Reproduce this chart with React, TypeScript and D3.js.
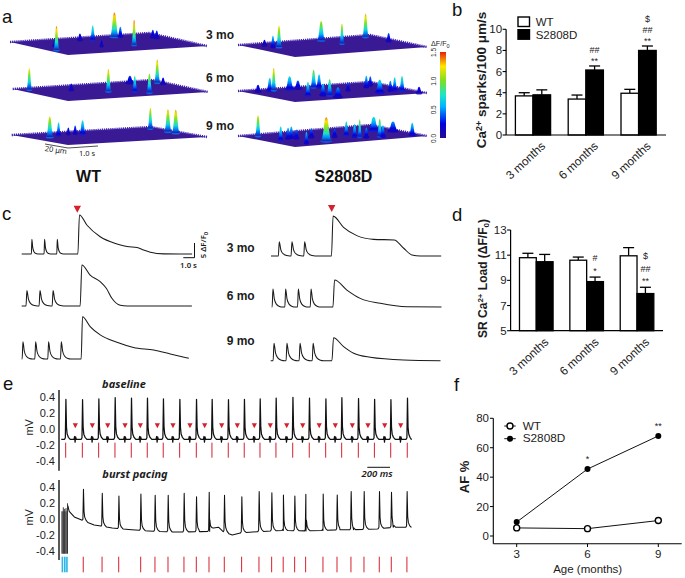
import * as d3 from 'd3';

const width = 685;
const height = 578;
const sans = '"Liberation Sans", Arial, sans-serif';
const humanist = '"Noto Sans", "Open Sans", sans-serif';
const ink = '#1c1c1c';
const red = '#d6202c';

// panel a: [position along the time axis, depth on the plate, dF/F0, spread]
type Spark = [number, number, number, number];
const wt3Sparks: Spark[] = [
  [0.236, 0.7, 1.4, 1.1], [0.42, 0.1, 0.8, 1], [0.53, 0, 1.42, 1.7], [0.56, 0, 0.5, 1], [0.63, 0.55, 1.45, 1],
  [0.465, 0.5, 0.3, 0.7], [0.355, 0.05, 0.3, 1], [0.725, 0.1, 0.35, 1], [0.745, 0.1, 0.35, 1], [0.228, 0.4, 0.3, 1],
];
const wt6Sparks: Spark[] = [
  [0.085, 0, 1.25, 1], [0.3, 0.2, 0.3, 1], [0.49, 0.45, 1.3, 1.1], [0.6, 0, 0.35, 1.6], [0.625, 0.55, 0.85, 1],
  [0.7, 0.7, 1.1, 1.1], [0.74, 0, 1.35, 1.1], [0.77, 0, 0.3, 1],
];
const wt9Sparks: Spark[] = [
  [0.195, 0.3, 1.2, 1.4], [0.24, 0.1, 0.7, 0.9], [0.29, 0.05, 0.3, 0.8], [0.325, 0.05, 0.4, 0.9], [0.363, 0.1, 0.75, 1.2],
  [0.71, 0, 1.2, 1], [0.8, 0, 1.3, 1.4], [0.84, 0, 1.35, 1.5],
];
const s3Sparks: Spark[] = [
  [0.14, 0.1, 0.25, 1], [0.185, 0.3, 0.6, 0.9], [0.217, 0.3, 1.25, 1.1], [0.44, 0, 1.1, 1.5], [0.55, 0.3, 1.15, 0.9],
  [0.675, 0, 1.35, 1.2], [0.797, 0.05, 0.4, 1],
];
const s6Sparks: Spark[] = [
  [0.106, 0, 0.3, 1.2], [0.168, 0, 0.7, 1.2], [0.189, 0, 1.3, 1], [0.273, 0, 0.7, 1.7], [0.317, 0, 0.4, 1.4],
  [0.37, 0.5, 0.75, 1.1], [0.4, 0, 1, 1.2], [0.429, 0, 0.7, 1.1], [0.45, 0.55, 0.6, 1.3], [0.485, 0.6, 0.9, 1.2],
  [0.529, 0.75, 0.5, 1.8], [0.582, 0.35, 0.4, 0.9], [0.679, 0.2, 0.6, 1], [0.7, 0.1, 0.45, 1], [0.75, 0.55, 0.7, 1.8],
  [0.806, 0.3, 0.5, 1], [0.829, 0.2, 0.7, 1], [0.868, 0.1, 0.8, 1.1], [0.958, 0, 0.3, 1.2],
];
const s9Sparks: Spark[] = [
  [0.106, 0, 1.2, 1.1], [0.226, 0.5, 0.75, 1], [0.265, 0.35, 0.55, 1], [0.282, 0.3, 0.6, 1.1], [0.309, 0.35, 0.45, 1],
  [0.362, 0.7, 0.6, 0.9], [0.388, 0.35, 0.45, 1.1], [0.467, 0.7, 1.4, 2.2], [0.511, 0.45, 0.4, 1], [0.573, 0.4, 0.75, 1],
  [0.617, 0.55, 0.7, 1], [0.644, 0.6, 1, 0.8], [0.679, 0.65, 0.5, 1], [0.718, 0.2, 0.75, 2], [0.75, 0.6, 1, 1],
  [0.767, 0.6, 0.6, 1], [0.82, 0, 0.5, 2], [0.922, 0, 0.65, 1.2],
];
const sparkProfile: [number, number][] = [
  [-1, 0], [-0.7, 0.12], [-0.45, 0.5], [-0.25, 0.88], [0, 1], [0.25, 0.88], [0.45, 0.5], [0.7, 0.12], [1, 0],
];
const jetStops = ['#260c8c', '#0000e6', '#00b4ff', '#19e6c8', '#7de01e', '#ffe600', '#e61e0a'];
const jetDomain = [0, 0.25, 0.55, 0.75, 1, 1.25, 1.5];

// panel b and d
const ages = ['3 months', '6 months', '9 months'];
const genotypes = ['WT', 'S2808D'];
const sparksWT = [3.7, 3.4, 3.95];
const sparksS = [3.8, 6.15, 8.0];
const sparksWTErr = [0.3, 0.38, 0.37];
const sparksSErr = [0.47, 0.38, 0.42];
const loadWT = [10.8, 10.6, 10.95];
const loadS = [10.48, 8.9, 7.95];
const loadWTErr = [0.35, 0.25, 0.65];
const loadSErr = [0.58, 0.36, 0.5];

// panel c: twitch times (s), amplitude (dF/F0), caffeine transient [s, dF/F0]
const twitchShape: [number, number][] = [[-0.05, 0], [0.02, 1], [0.14, 0.45], [0.32, 0.16], [0.6, 0.03], [0.85, 0]];
const wt3Twitch = [0.79, 1.79, 2.79];
const wt6Twitch = [0.39, 1.42, 2.45];
const wt9Twitch = [0.08, 1.08, 2.1, 3.1];
const s3Twitch = [0.63, 1.63, 2.63];
const s6Twitch = [0.08, 1.08, 2.08, 3.08];
const s9Twitch = [0.24, 1.26, 2.29, 3.32];
const wt3Caff: [number, number][] = [[4.42, 0], [4.55, 13.6], [5.13, 10.1], [6.18, 6], [7.5, 3.5], [8.29, 2.6], [9.08, 2.3], [9.6, 1.4], [10.13, 0.6], [11.18, 0.05], [13.42, 0]];
const wt6Caff: [number, number][] = [[4.6, 0], [4.74, 14.3], [5.39, 10.8], [6.18, 8.5], [6.66, 6.2], [7.1, 2.7], [7.76, 0.25], [8.3, 0], [13.4, 0]];
const wt9Caff: [number, number][] = [[4.68, 0], [4.79, 14.7], [5.39, 11.3], [6.18, 8.4], [7.5, 5.8], [8.8, 4], [10.4, 3.1], [11.7, 1.75], [13.16, 0.25]];
const s3Caff: [number, number][] = [[4.76, 0], [4.89, 13.9], [5.71, 10], [6.76, 7.1], [8.08, 5.8], [9.7, 5.6], [10.45, 2.7], [11.1, 0.35], [11.76, 0], [13.4, 0]];
const s6Caff: [number, number][] = [[4.82, 0], [4.95, 9.4], [5.92, 5.9], [6.97, 3], [8.55, 1.3], [10.66, 0.1], [13.37, 0]];
const s9Caff: [number, number][] = [[4.82, 0], [4.95, 8], [5.74, 4.9], [6.53, 2.6], [7.84, 1.2], [10.47, 0.25], [13.37, 0]];

// panel e: beat times (ms), peaks (mV)
const baseBeats = [59, 206, 350, 494, 638, 779, 920, 1065, 1212, 1350, 1494, 1635, 1774, 1915, 2063, 2209, 2354, 2495, 2642, 2784, 2928, 3074];
const basePeaks = [0.375, 0.37, 0.38, 0.395, 0.39, 0.39, 0.38, 0.375, 0.375, 0.375, 0.37, 0.375, 0.38, 0.39, 0.4, 0.39, 0.38, 0.395, 0.385, 0.375, 0.37, 0.39];
const baseAtrial = [144, 294, 430, 583, 718, 868, 1006, 1156, 1286, 1436, 1574, 1724, 1865, 2010, 2151, 2297, 2439, 2589, 2727, 2875, 3016];
const burstBeats = [214, 380, 527, 721, 847, 962, 1103, 1212, 1324, 1459, 1612, 1765, 1877, 1979, 2080, 2177, 2330, 2454, 2577, 2692, 2827, 2933, 3071];
const burstPeaks = [0.375, 0.325, 0.29, 0.317, 0.3, 0.3, 0.325, 0.283, 0.3375, 0.3, 0.283, 0.346, 0.333, 0.304, 0.29, 0.312, 0.317, 0.304, 0.346, 0.346, 0.346, 0.337, 0.346];
const burstFloor: [number, number][] = [[78, 0.17], [90, 0.1], [135, 0.03], [200, -0.01], [310, -0.07], [470, -0.11], [640, -0.13], [790, -0.145], [1000, -0.16], [1240, -0.155], [1330, -0.15], [1360, -0.11], [1410, -0.1], [1450, -0.155], [1530, -0.195], [1600, -0.17], [1750, -0.155], [1980, -0.14], [2180, -0.145], [2330, -0.14], [2480, -0.13], [2600, -0.13], [2810, -0.12], [2950, -0.1], [3110, -0.1]];
const burstStim = [26, 38, 50, 62, 75];
const burstTops = [0.1, 0.15, 0.13, 0.14, 0.2];
const burstPulses = [30, 51, 70];
const qrsShape: [number, number][] = [[-10, 0], [-3, 0.04], [2, 1], [7, 0.3], [13, 0.13], [24, 0.05], [40, 0]];
const atrialShape: [number, number][] = [[-12, 0], [-6, 0.035], [-2, -0.035], [3, 0.03], [9, 0], [14, 0]];

// panel f
const afAges = [3, 6, 9];
const afWT = [5.5, 5, 10.5];
const afS = [9.5, 45.5, 68];
const afStars = ['', '*', '**'];

const jet = d3.scaleLinear<string>(jetDomain, jetStops);
const zScale = d3.scaleLinear([0, 1.5], [0, 24]);

function Plate({ id, left, front, right, sparks }: { id: string; left: number[]; front: number[]; right: number[]; sparks: Spark[] }) {
  const back = [left[0] + right[0] - front[0], left[1] + right[1] - front[1]];
  const u = d3.scaleLinear([0, 1], [left[0], right[0]]);
  const edgeFront = d3.scaleLinear([left[0], front[0], right[0]], [left[1], front[1], right[1]]);
  const edgeBack = d3.scaleLinear([left[0], back[0], right[0]], [left[1], back[1], right[1]]);
  const shape = d3.line<[number, number]>().curve(d3.curveMonotoneX);
  const ordered = [...sparks].sort((a, b) => a[1] - b[1]);
  return (
    <g>
      <polygon points={[left, front, right, back].map((p) => p.join(',')).join(' ')} fill="#3a1a94" />
      <path
        d={`M${left[0]},${left[1]}L${back[0]},${back[1]}L${right[0]},${right[1]}`}
        fill="none"
        stroke="#4022ab"
        strokeWidth={2.4}
        strokeDasharray="1.2 0.9"
      />
      {ordered.map(([t, depth, df, spread], i) => {
        const x = u(t);
        const y = edgeBack(x) + depth * (edgeFront(x) - edgeBack(x));
        const h = zScale(df);
        const half = 2.5 * spread + 0.5;
        const gid = `${id}-${i}`;
        return (
          <g key={gid}>
            <defs>
              <linearGradient id={gid} gradientUnits="userSpaceOnUse" x1={0} x2={0} y1={y + 2} y2={y - h}>
                {d3.range(7).map((k) => (
                  <stop key={k} offset={k / 6} stopColor={jet(df * Math.pow(k / 6, 0.6))} />
                ))}
              </linearGradient>
            </defs>
            <ellipse cx={x} cy={y + 1.5} rx={half} ry={1.6} fill={jet(Math.min(df * 0.4, 0.45))} opacity={0.85} />
            <path
              d={(shape(sparkProfile.map(([a, b]) => [x + a * half, y + 1.5 - b * (h + 1.5)] as [number, number])) ?? '') + 'Z'}
              fill={`url(#${gid})`}
            />
          </g>
        );
      })}
    </g>
  );
}

function BarPanel({ x0, x1, yTop, yBottom, domain, ticks, wt, s, wtErr, sErr, barHalf, axisEnd, labelY, marks }: {
  x0: number; x1: number; yTop: number; yBottom: number; domain: number[]; ticks: number[];
  wt: number[]; s: number[]; wtErr: number[]; sErr: number[]; barHalf: number; axisEnd: number; labelY: number;
  marks: [number, string, number][];
}) {
  const y = d3.scaleLinear(domain, [yBottom, yTop]);
  const group = d3.scaleBand(ages, [x0, x1]);
  const inner = d3.scaleBand(genotypes, [-barHalf, barHalf]);
  const axisX = x0 - 0.5;
  return (
    <g>
      {ages.map((age, i) => {
        const cx = (group(age) ?? 0) + group.bandwidth() / 2;
        return (
          <g key={age}>
            {genotypes.map((g) => {
              const v = g === 'WT' ? wt[i] : s[i];
              const e = g === 'WT' ? wtErr[i] : sErr[i];
              const bx = cx + (inner(g) ?? 0);
              const mid = bx + inner.bandwidth() / 2;
              return (
                <g key={g}>
                  <line x1={mid} x2={mid} y1={y(v)} y2={y(v + e)} stroke="black" strokeWidth={1.3} />
                  <line x1={mid - 5.5} x2={mid + 5.5} y1={y(v + e)} y2={y(v + e)} stroke="black" strokeWidth={1.3} />
                  <rect
                    x={bx}
                    y={y(v)}
                    width={inner.bandwidth()}
                    height={yBottom - y(v)}
                    fill={g === 'WT' ? 'white' : 'black'}
                    stroke="black"
                    strokeWidth={1.3}
                  />
                </g>
              );
            })}
            <text
              transform={`translate(${cx + 13},${labelY}) rotate(-43)`}
              textAnchor="end"
              fontSize={11.8}
              fill={ink}
            >
              {age}
            </text>
          </g>
        );
      })}
      <line x1={axisX} x2={axisX} y1={yTop} y2={yBottom} stroke="black" strokeWidth={1.2} />
      <line x1={axisX} x2={axisEnd} y1={yBottom} y2={yBottom} stroke="black" strokeWidth={1.2} />
      {ticks.map((t) => (
        <g key={t}>
          <line x1={axisX - 3.5} x2={axisX} y1={y(t)} y2={y(t)} stroke="black" strokeWidth={1.1} />
          <text x={axisX - 4} y={y(t) + 4} textAnchor="end" fontSize={11.5} fill={ink}>
            {t}
          </text>
        </g>
      ))}
      {marks.map(([i, label, dy]) => {
        const cx = (group(ages[i]) ?? 0) + group.bandwidth() / 2 + barHalf / 2;
        return (
          <text key={`${i}${label}`} x={cx} y={y(s[i] + sErr[i]) + dy} textAnchor="middle" fontSize={9} fill={ink}>
            {label}
          </text>
        );
      })}
    </g>
  );
}

function buildTwitchTrace(times: number[], amp: number, scale: number, caff: [number, number][]) {
  const pts: [number, number][] = [[0, 0]];
  times.forEach((t) => {
    twitchShape.forEach(([dt, f]) => pts.push([t + dt * scale, f * amp]));
  });
  return [...pts.filter((p) => p[0] >= 0), ...caff].sort((a, b) => a[0] - b[0]);
}

function CalciumTrace({ originX, baseY, times, amp, scale, caff }: { originX: number; baseY: number; times: number[]; amp: number; scale: number; caff: [number, number][] }) {
  const x = d3.scaleLinear([0, 1], [originX, originX + 12.7]);
  const y = d3.scaleLinear([0, 5], [baseY, baseY - 14.35]);
  const line = d3.line<[number, number]>().x((d) => x(d[0])).y((d) => y(d[1])).curve(d3.curveMonotoneX);
  return <path d={line(buildTwitchTrace(times, amp, scale, caff)) ?? ''} fill="none" stroke="#1a1a1a" strokeWidth={1.05} />;
}

const ecgX = d3.scaleLinear([0, 3100], [59, 410.2]);

function MvAxis({ y0, top, bottom }: { y0: number; top: number; bottom: number }) {
  const y = d3.scaleLinear([0, 0.4], [y0, y0 - 32]);
  return (
    <g>
      <line x1={59} x2={59} y1={top} y2={bottom} stroke="black" strokeWidth={1.3} />
      {[0.4, 0.2, 0, -0.2, -0.4].map((t) => (
        <text key={t} x={55} y={y(t) + 4} textAnchor="end" fontSize={11} fill={ink}>
          {t.toFixed(1)}
        </text>
      ))}
      <text transform={`translate(33,${y0 - 2}) rotate(-90)`} textAnchor="middle" fontSize={11} fill={ink}>
        mV
      </text>
    </g>
  );
}

function baselineEcg() {
  const rest = -0.125;
  const pts: [number, number][] = [[20, rest]];
  baseBeats.forEach((b, i) => qrsShape.forEach(([dt, f]) => pts.push([b + dt, rest + f * (basePeaks[i] - rest)])));
  baseAtrial.forEach((a) => atrialShape.forEach(([dt, f]) => pts.push([a + dt, rest + f])));
  pts.push([3110, rest]);
  return pts.sort((a, b) => a[0] - b[0]);
}

function burstEcg() {
  const floor = d3.scaleLinear(burstFloor.map((d) => d[0]), burstFloor.map((d) => d[1]));
  const pts: [number, number][] = [...burstFloor];
  burstBeats.forEach((b, i) =>
    qrsShape.forEach(([dt, f]) => pts.push([b + dt, floor(b + dt) + f * (burstPeaks[i] - floor(b + dt))]))
  );
  return pts.sort((a, b) => a[0] - b[0]);
}

export default function App() {
  const yTop = d3.scaleLinear([0, 0.4], [429.3, 397.3]);
  const yLow = d3.scaleLinear([0, 0.4], [519.3, 487.3]);
  const ecgTop = d3.line<[number, number]>().x((d) => ecgX(d[0])).y((d) => yTop(d[1]));
  const ecgLow = d3.line<[number, number]>().x((d) => ecgX(d[0])).y((d) => yLow(d[1]));

  const afX = d3.scaleLinear([3, 9], [516.7, 658.3]);
  const afY = d3.scaleLinear([0, 80], [536, 418.3]);
  const afLine = d3.line<number>((_, i) => afX(afAges[i]), afY);
  const barScale = d3.scaleLinear([-0.75, 0.75], [52, 138]);
  const jetBar = d3.range(0, 1.5001, 0.05);

  return (
    <svg
      width={width}
      height={height}
      fontFamily={sans}
      style={{ position: 'absolute', left: 0, top: 0, background: 'white' }}
    >
      <defs>
        <linearGradient id="jetbar" x1={0} x2={0} y1={1} y2={0}>
          {jetBar.map((v) => (
            <stop key={v} offset={v / 1.5} stopColor={jet(v)} />
          ))}
        </linearGradient>
      </defs>

      {/* panel letters */}
      {[['a', 2, 23], ['b', 452, 16], ['c', 2, 220], ['d', 452, 221], ['e', 3, 390], ['f', 454, 391]].map(([t, x, y]) => (
        <text key={t as string} x={x as number} y={y as number} fontSize={18.5} fill="#111">
          {t as string}
        </text>
      ))}

      {/* a */}
      <Plate id="w3" left={[10, 42]} front={[68, 55]} right={[207, 46]} sparks={wt3Sparks} />
      <Plate id="w6" left={[12.7, 89]} front={[68, 101]} right={[208, 92]} sparks={wt6Sparks} />
      <Plate id="w9" left={[11.7, 135]} front={[68, 145]} right={[207, 137]} sparks={wt9Sparks} />
      <Plate id="s3" left={[238, 45]} front={[295, 57]} right={[427, 47]} sparks={s3Sparks} />
      <Plate id="s6" left={[238, 91]} front={[295, 102]} right={[427, 93]} sparks={s6Sparks} />
      <Plate id="s9" left={[238, 136]} front={[295, 147]} right={[427, 136]} sparks={s9Sparks} />
      {[['3 mo', 39], ['6 mo', 82], ['9 mo', 130]].map(([t, y]) => (
        <text key={t as string} x={206} y={y as number} fontSize={12} fontWeight={700} fill={ink}>
          {t as string}
        </text>
      ))}
      <text x={88.5} y={182} textAnchor="middle" fontSize={16} fontWeight={700} fill="#111">WT</text>
      <text x={343.5} y={182} textAnchor="middle" fontSize={16} fontWeight={700} fill="#111">S2808D</text>
      <path d="M45,144L68,148L98,146" fill="none" stroke="#222" strokeWidth={0.8} />
      <text transform="translate(44.5,151) rotate(8)" fontSize={7.5} fontFamily={humanist} fill={ink}>20 μm</text>
      <text x={79} y={155.5} fontSize={7.5} fontFamily={humanist} fill={ink}>1.0 s</text>
      <rect x={440} y={52} width={6} height={86} fill="url(#jetbar)" />
      <text x={431} y={46} fontSize={7.2} fill={ink}>
        ΔF/F<tspan dy={1.5} fontSize={5.5}>0</tspan>
      </text>
      {[1.5, 1, 0.5, 0].map((v) => (
        <text
          key={v}
          transform={`translate(435.5,${barScale(0.75 - v) + 0.5}) rotate(-90)`}
          textAnchor="middle"
          fontSize={6.5}
          fill={ink}
        >
          {v.toFixed(1)}
        </text>
      ))}

      {/* b */}
      <BarPanel
        x0={506.6}
        x1={665}
        yTop={29.3}
        yBottom={135}
        domain={[0, 10]}
        ticks={[0, 2, 4, 6, 8, 10]}
        wt={sparksWT}
        s={sparksS}
        wtErr={sparksWTErr}
        sErr={sparksSErr}
        barHalf={17.6}
        axisEnd={666}
        labelY={147}
        marks={[[1, '**', -2], [1, '##', -13], [2, '**', -2], [2, '##', -13], [2, '$', -24]]}
      />
      <rect x={518} y={17} width={11.5} height={9.5} fill="white" stroke="black" strokeWidth={1.4} />
      <rect x={518} y={29.7} width={11.5} height={9.5} fill="black" stroke="black" strokeWidth={1.4} />
      <text x={535.7} y={26} fontSize={11.5} fill={ink}>WT</text>
      <text x={535.7} y={38.7} fontSize={11.5} fill={ink}>S2808D</text>
      <text transform="translate(486,80) rotate(-90)" textAnchor="middle" fontSize={13.5} fontWeight={700} fill={ink}>
        Ca<tspan dy={-4.5} fontSize={9}>2+</tspan>
        <tspan dy={4.5}> sparks/100 μm/s</tspan>
      </text>

      {/* d */}
      <BarPanel
        x0={511.1}
        x1={662.2}
        yTop={230}
        yBottom={330.7}
        domain={[5, 13]}
        ticks={[5, 7, 9, 11, 13]}
        wt={loadWT}
        s={loadS}
        wtErr={loadWTErr}
        sErr={loadSErr}
        barHalf={16.8}
        axisEnd={663}
        labelY={343}
        marks={[[1, '*', -3], [1, '#', -16], [2, '**', -3], [2, '##', -15], [2, '$', -28]]}
      />
      <text transform="translate(486.7,278.5) rotate(-90)" textAnchor="middle" fontSize={12} fontWeight={700} fill={ink}>
        SR Ca<tspan dy={-4} fontSize={8}>2+</tspan>
        <tspan dy={4}> Load (ΔF/F</tspan>
        <tspan dy={2} fontSize={8}>0</tspan>
        <tspan dy={-2}>)</tspan>
      </text>

      {/* c */}
      <CalciumTrace originX={21.7} baseY={254} times={wt3Twitch} amp={5.1} scale={0.55} caff={wt3Caff} />
      <CalciumTrace originX={21.7} baseY={306} times={wt6Twitch} amp={5.35} scale={1} caff={wt6Caff} />
      <CalciumTrace originX={21.7} baseY={359} times={wt9Twitch} amp={6} scale={0.9} caff={wt9Caff} />
      <CalciumTrace originX={271} baseY={256} times={s3Twitch} amp={5} scale={1} caff={s3Caff} />
      <CalciumTrace originX={271.7} baseY={307} times={s6Twitch} amp={6.3} scale={0.9} caff={s6Caff} />
      <CalciumTrace originX={270.7} baseY={360.7} times={s9Twitch} amp={6.05} scale={1} caff={s9Caff} />
      {[[77.3, 205.7], [331.7, 205]].map(([x, y]) => (
        <path key={x} d={`M${x - 3.7},${y}h7.4l-3.7,7z`} fill={red} />
      ))}
      <path d="M183.3,257.7H194.5V243" fill="none" stroke="#111" strokeWidth={1} />
      <text x={188.5} y={267.5} textAnchor="middle" fontSize={7.8} fontWeight={600} fontFamily={humanist} fill={ink}>1.0 s</text>
      <text transform="translate(206,245) rotate(-90)" textAnchor="middle" fontSize={7.8} fontWeight={600} fontFamily={humanist} fill={ink}>
        5 ΔF/F<tspan dy={1.5} fontSize={6}>0</tspan>
      </text>
      {[['3 mo', 252.3], ['6 mo', 300.3], ['9 mo', 345]].map(([t, y]) => (
        <text key={t as string} x={226.7} y={y as number} fontSize={12} fontWeight={700} fill={ink}>
          {t as string}
        </text>
      ))}

      {/* e */}
      <MvAxis y0={429.3} top={390} bottom={470.7} />
      <MvAxis y0={519.3} top={480} bottom={560} />
      <text x={124} y={388.3} textAnchor="middle" fontSize={11} fontWeight={700} fontStyle="italic" fontFamily={humanist} fill={ink}>baseline</text>
      <text x={135} y={478.3} textAnchor="middle" fontSize={11} fontWeight={700} fontStyle="italic" fontFamily={humanist} fill={ink}>burst pacing</text>
      <path d={ecgTop(baselineEcg()) ?? ''} fill="none" stroke="#111" strokeWidth={1.25} strokeLinejoin="round" />
      <path d={ecgLow(burstEcg()) ?? ''} fill="none" stroke="#111" strokeWidth={1.05} strokeLinejoin="round" />
      <rect
        x={ecgX(burstStim[0])}
        y={yLow(0.1)}
        width={ecgX(burstStim[4]) - ecgX(burstStim[0])}
        height={yLow(-0.43) - yLow(0.1)}
        fill="#999"
      />
      {burstStim.map((t, i) => (
        <line key={t} x1={ecgX(t)} x2={ecgX(t)} y1={yLow(burstTops[i])} y2={yLow(-0.43)} stroke="#222" strokeWidth={0.9} />
      ))}
      {burstPulses.map((t) => (
        <line key={t} x1={ecgX(t)} x2={ecgX(t)} y1={556.7} y2={572.3} stroke="#2bb4e6" strokeWidth={1.6} />
      ))}
      {baseBeats.map((t) => (
        <line key={t} x1={ecgX(t)} x2={ecgX(t)} y1={442.7} y2={457.7} stroke={red} strokeWidth={1} />
      ))}
      {baseAtrial.map((t) => (
        <path key={t} d={`M${ecgX(t) - 2.6},423.3h5.2l-2.6,5z`} fill={red} />
      ))}
      {burstBeats.map((t) => (
        <line key={t} x1={ecgX(t)} x2={ecgX(t)} y1={556.7} y2={572.3} stroke={red} strokeWidth={1} />
      ))}
      <line x1={367.3} x2={390} y1={467.3} y2={467.3} stroke="#111" strokeWidth={1} />
      <text x={377} y={476.7} textAnchor="middle" fontSize={9.5} fontStyle="italic" fontWeight={600} fontFamily={humanist} fill={ink}>200 ms</text>

      {/* f */}
      <line x1={493.3} x2={493.3} y1={418.3} y2={543.7} stroke="black" strokeWidth={1.1} />
      <line x1={493.3} x2={681.7} y1={543.7} y2={543.7} stroke="black" strokeWidth={1.1} />
      {[0, 20, 40, 60, 80].map((t) => (
        <g key={t}>
          <line x1={490} x2={493.3} y1={afY(t)} y2={afY(t)} stroke="black" strokeWidth={1} />
          <text x={489} y={afY(t) + 4} textAnchor="end" fontSize={11.5} fill={ink}>{t}</text>
        </g>
      ))}
      {afAges.map((a) => (
        <g key={a}>
          <line x1={afX(a)} x2={afX(a)} y1={543.7} y2={547} stroke="black" strokeWidth={1} />
          <text x={afX(a)} y={558.3} textAnchor="middle" fontSize={11.5} fill={ink}>{a}</text>
        </g>
      ))}
      <text x={587.7} y={573.3} textAnchor="middle" fontSize={11.5} fill={ink}>Age (months)</text>
      <text transform="translate(469.3,477) rotate(-90)" textAnchor="middle" fontSize={13} fontWeight={700} fill={ink}>AF %</text>
      <path d={afLine(afWT) ?? ''} fill="none" stroke="#111" strokeWidth={1} />
      <path d={afLine(afS) ?? ''} fill="none" stroke="#111" strokeWidth={1} />
      {afAges.map((a, i) => (
        <g key={a}>
          <circle cx={afX(a)} cy={afY(afS[i])} r={3} fill="black" />
          <circle cx={afX(a)} cy={afY(afWT[i])} r={3} fill="white" stroke="black" strokeWidth={1.4} />
          <text x={afX(a)} y={afY(afS[i]) - 7} textAnchor="middle" fontSize={9} fill={ink}>{afStars[i]}</text>
        </g>
      ))}
      <line x1={504.3} x2={515.7} y1={426} y2={426} stroke="#111" strokeWidth={1} />
      <circle cx={510} cy={426} r={3} fill="white" stroke="black" strokeWidth={1.4} />
      <line x1={504.3} x2={515.7} y1={438.7} y2={438.7} stroke="#111" strokeWidth={1} />
      <circle cx={510} cy={438.7} r={3} fill="black" />
      <text x={522.7} y={429.7} fontSize={11.8} fill={ink}>WT</text>
      <text x={522.7} y={442.2} fontSize={11.8} fill={ink}>S2808D</text>
    </svg>
  );
}
